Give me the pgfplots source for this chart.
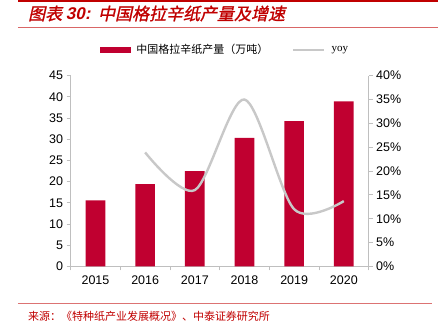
\documentclass[border=0pt]{standalone}
\usepackage{pgfplots}
\pgfplotsset{compat=1.18}
\usepackage{fontspec}
\setmainfont{Liberation Sans}
\newfontfamily\cjk{Noto Sans CJK SC}
\newfontfamily\cjkt[FakeSlant=0.22,FakeBold=1.2]{Noto Sans CJK SC}
\newfontfamily\lattit[FakeSlant=0.22]{Liberation Sans}
\definecolor{barred}{HTML}{C00030}
\definecolor{titred}{HTML}{C00000}
\definecolor{axgray}{HTML}{BFBFBF}
\definecolor{yoygray}{HTML}{C8C8C8}
\begin{document}
\begin{tikzpicture}[x=1pt,y=1pt]
\path (0,0) rectangle (438,331);
% header / footer decorations
\fill[titred] (18,328.5) rectangle (438,331);
\draw[color=titred!60,line width=0.8pt] (18,304) -- (438,304);
\draw[color=titred!55,line width=0.8pt] (18,27) -- (432,27);
\node[anchor=base west,inner sep=0,text=titred] at (28,311) {\cjkt\fontsize{17}{19}\selectfont 图表\ {\lattit\bfseries 30:}\ \ 中国格拉辛纸产量及增速};
\node[anchor=base west,inner sep=0,text=titred] at (28,10) {\cjk\fontsize{11}{12}\selectfont 来源：《特种纸产业发展概况》、中泰证券研究所};
\begin{axis}[
  at={(70.7pt,64.3pt)}, anchor=south west,
  scale only axis, width=298.3pt, height=191pt,
  xmin=-0.5, xmax=5.5, ymin=0, ymax=45,
  axis x line*=bottom, axis y line*=left,
  axis line style={axgray, line width=0.8pt},
  xtick={0,...,5}, xticklabels={2015,2016,2017,2018,2019,2020},
  major x tick style={draw=none},
  minor xtick={-0.5,0.5,...,5.5},
  minor x tick style={axgray, line width=0.8pt},
  minor tick length=4pt,
  ytick={0,5,...,45},
  y tick style={axgray, line width=0.8pt},
  major tick length=4pt,
  tick align=outside,
  ticklabel style={font=\fontsize{12.5}{14}\selectfont, text=black},
  /pgf/number format/assume math mode=true,
  xticklabel style={yshift=-2pt},
]
\addplot[ybar, bar width=19.7pt, fill=barred, draw=none] coordinates {(0,15.6) (1,19.4) (2,22.5) (3,30.3) (4,34.25) (5,38.9)};
\end{axis}
\begin{axis}[
  at={(70.7pt,64.3pt)}, anchor=south west,
  scale only axis, width=298.3pt, height=191pt,
  xmin=-0.5, xmax=5.5, ymin=0, ymax=40,
  axis x line=none, axis y line*=right,
  axis line style={axgray, line width=0.8pt},
  ytick={0,5,...,40},
  yticklabel={\pgfmathprintnumber{\tick}\%},
  y tick style={axgray, line width=0.8pt},
  major tick length=4pt, tick align=outside,
  ticklabel style={font=\fontsize{12.5}{14}\selectfont, text=black},
  /pgf/number format/assume math mode=true,
  legend columns=2,
  legend style={at={(0.098,1.135)}, anchor=west, draw=none, fill=none, inner sep=0pt,
    font=\fontsize{11}{12}\selectfont,
    /tikz/every odd column/.append style={column sep=4pt},
    /tikz/every even column/.append style={column sep=22pt}},
]
\addlegendimage{legend image code/.code={\fill[barred] (0pt,-2.8pt) rectangle (30pt,2.8pt);}}
\addlegendentry{\cjk 中国格拉辛纸产量（万吨）}
\addplot[yoygray, line width=2.4pt, smooth, tension=0.5,
  legend image code/.code={\draw[yoygray,line width=2.4pt] (0pt,0pt) -- (31pt,0pt);}]
  coordinates {(1,23.9) (2,16.0) (3,35.0) (4,12.0) (5,13.7)};
\addlegendentry{\fontspec{Liberation Serif}yoy}
\end{axis}
\end{tikzpicture}
\end{document}
